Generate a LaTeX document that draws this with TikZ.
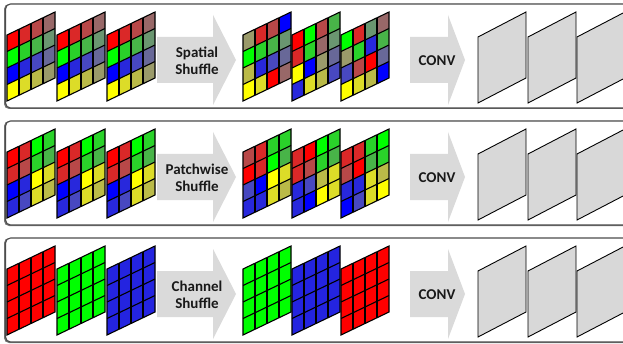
\documentclass[tikz,border=0pt]{standalone}
\usepackage{fontspec}
\newfontfamily\labfont{Carlito}
\definecolor{R0}{RGB}{255,0,0}
\definecolor{R1}{RGB}{218,40,40}
\definecolor{R2}{RGB}{184,72,72}
\definecolor{R3}{RGB}{152,104,104}
\definecolor{G0}{RGB}{0,255,0}
\definecolor{G1}{RGB}{42,210,42}
\definecolor{G2}{RGB}{72,180,72}
\definecolor{G3}{RGB}{106,150,112}
\definecolor{B0}{RGB}{0,0,255}
\definecolor{B1}{RGB}{40,40,220}
\definecolor{B2}{RGB}{72,72,192}
\definecolor{B3}{RGB}{104,104,152}
\definecolor{Y0}{RGB}{255,255,0}
\definecolor{Y1}{RGB}{220,220,40}
\definecolor{Y2}{RGB}{186,186,72}
\definecolor{Y3}{RGB}{154,154,106}
\definecolor{RR}{RGB}{255,0,0}
\definecolor{GG}{RGB}{0,255,0}
\definecolor{BB}{RGB}{36,36,224}
\definecolor{arrowgray}{RGB}{218,218,218}
\definecolor{mapgray}{RGB}{216,216,216}
\definecolor{labcol}{RGB}{25,25,25}
\tikzset{
  gridline/.style={draw=black, line width=1.1pt},
  panelbox/.style={draw=black!70, line width=1.1pt, fill=white, rounded corners=5pt},
  panelshadow/.style={fill=black!55, rounded corners=5pt},
  blockarrow/.style={fill=arrowgray, draw=none},
  fmap/.style={draw=black, line width=0.9pt, fill=mapgray},
  lab/.style={font=\labfont\bfseries\fontsize{15}{17.5}\selectfont, text=labcol, align=center},
}
% colored 4x4 grid: #1 = left x (px), #2 = bottom-left y (px, from top), #3 = 16 colours
\newcommand\colgrid[3]{%
  \begin{scope}[shift={(#1,{343-(#2)})}, yslant=0.479]
    \foreach \c [count=\k from 0] in {#3} {
      \pgfmathtruncatemacro\ci{mod(\k,4)}
      \pgfmathtruncatemacro\ri{div(\k,4)}
      \fill[fill=\c] ({12*\ci},{16.5*(3-\ri)}) rectangle ++(12,16.5);
    }
    \foreach \i in {1,2,3} {
      \draw[gridline] ({12*\i},0) -- ({12*\i},66);
      \draw[gridline] (0,{16.5*\i}) -- (48,{16.5*\i});
    }
    \draw[gridline] (0,0) rectangle (48,66);
  \end{scope}}
\newcommand\solidgrid[3]{\colgrid{#1}{#2}{#3,#3,#3,#3,#3,#3,#3,#3,#3,#3,#3,#3,#3,#3,#3,#3}}
\newcommand\featmap[2]{%
  \begin{scope}[shift={(#1,{343-(#2)})}, yslant=0.521]
    \draw[fmap] (0,0) rectangle (48,66);
  \end{scope}}
% one panel with arrows: #1 = vertical offset (px), #2 = label text, #3 = row name
\newcommand\panelrow[3]{%
  \fill[panelshadow] (4,{343-(108+#1)-1}) rectangle (660,{343-(4+#1)});
  \draw[panelbox] (5.5,{343-(108+#1)}) rectangle (660,{343-(4+#1)});
  \fill[blockarrow] (157,{343-(37+#1)}) -- (213,{343-(37+#1)}) -- (213,{343-(15+#1)})
     -- (236,{343-(60+#1)}) -- (213,{343-(105+#1)}) -- (213,{343-(83+#1)})
     -- (157,{343-(83+#1)}) -- cycle;
  \fill[blockarrow] (410,{343-(37+#1)}) -- (448,{343-(37+#1)}) -- (448,{343-(15+#1)})
     -- (465,{343-(60+#1)}) -- (448,{343-(105+#1)}) -- (448,{343-(83+#1)})
     -- (410,{343-(83+#1)}) -- cycle;
  \node[lab] (shuf#3) at (197,{343-(61+#1)}) {#2};
  \node[lab] (conv#3) at (437,{343-(61+#1)}) {CONV};
  \featmap{478}{103+#1}
  \featmap{528}{103+#1}
  \featmap{577}{103+#1}}
\begin{document}
\begin{tikzpicture}[x=1pt,y=1pt]
\useasboundingbox (0,0) rectangle (623,343);
\clip (0,0) rectangle (623,343);
% ---------- row 1 : spatial shuffle
\panelrow{0}{Spatial\\Shuffle}{a}
\colgrid{7}{101}{R0,R1,R2,R3,G0,G1,G2,G3,B0,B1,B2,B3,Y0,Y1,Y2,Y3}
\colgrid{57}{101}{R0,R1,R2,R3,G0,G1,G2,G3,B0,B1,B2,B3,Y0,Y1,Y2,Y3}
\colgrid{107}{101}{R0,R1,R2,R3,G0,G1,G2,G3,B0,B1,B2,B3,Y0,Y1,Y2,Y3}
\colgrid{243}{101}{Y3,R1,R2,B0,G0,G1,G2,G3,Y2,B1,B2,B3,Y0,Y1,R0,R3}
\colgrid{292}{101}{R0,G0,R2,G2,R1,G1,R3,G3,Y0,B0,Y3,B3,B1,Y1,Y2,B2}
\colgrid{341}{101}{G0,R1,G3,R3,Y3,G1,B1,G2,B2,R2,R0,B3,Y0,Y1,Y2,B0}
% ---------- row 2 : patchwise shuffle
\panelrow{117}{Patchwise\\Shuffle}{b}
\colgrid{7}{218}{R0,R1,G0,G1,R1,R2,G1,G2,B0,B1,Y0,Y1,B1,B2,Y1,Y2}
\colgrid{57}{218}{R0,R1,G0,G1,R1,R2,G1,G2,B0,B1,Y0,Y1,B1,B2,Y1,Y2}
\colgrid{107}{218}{R0,R1,G0,G1,R1,R2,G1,G2,B0,B1,Y0,Y1,B1,B2,Y1,Y2}
\colgrid{243}{218}{R2,R1,G1,G1,R0,R1,G0,G2,B2,B0,Y0,Y1,B1,B1,Y1,Y2}
\colgrid{292}{218}{R1,R0,G0,G1,R1,R2,G1,G2,B1,B2,Y2,Y1,B1,B0,Y0,Y1}
\colgrid{341}{218}{R1,R1,G1,G0,R2,R0,G2,G1,B1,B1,Y1,Y2,B0,B2,Y1,Y0}
% ---------- row 3 : channel shuffle
\panelrow{234}{Channel\\Shuffle}{c}
\solidgrid{7}{335}{RR}
\solidgrid{57}{335}{GG}
\solidgrid{107}{335}{BB}
\solidgrid{243}{335}{GG}
\solidgrid{292}{335}{BB}
\solidgrid{341}{335}{RR}
\end{tikzpicture}
\end{document}
